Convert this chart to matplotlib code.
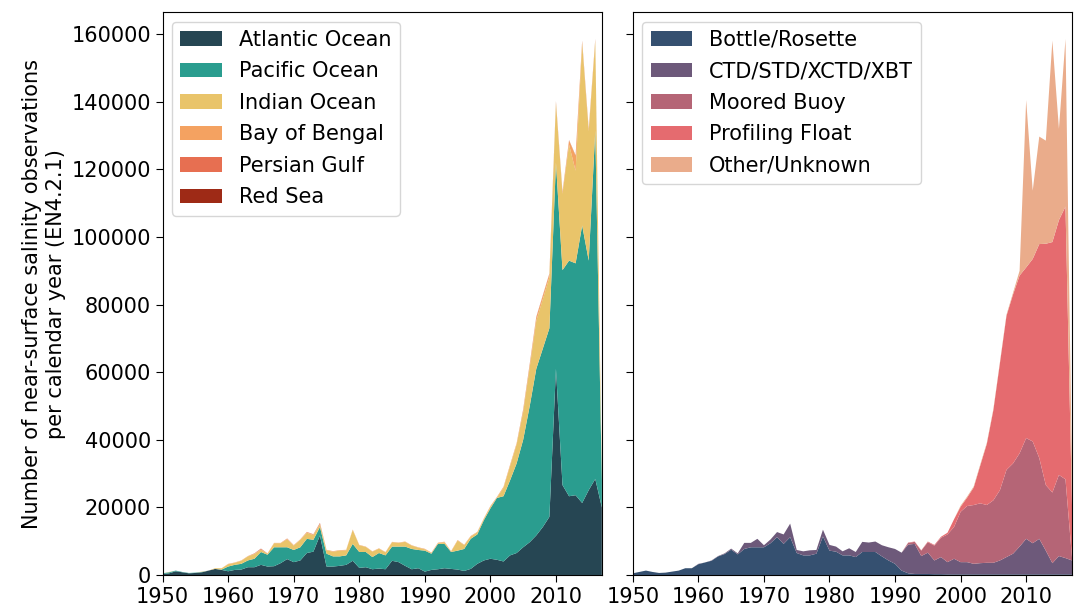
import numpy as np
import matplotlib
matplotlib.use("Agg")
import matplotlib.pyplot as plt

years = np.arange(1950, 2018)

# observations per year by ocean basin
atlantic = [300, 500, 1100, 800, 500, 600, 800, 1300, 1800, 1500,
            1100, 1500, 1600, 2300, 2300, 3000, 2500, 2600, 3500, 4700,
            3800, 4300, 6500, 6900, 11700, 2500, 2500, 2700, 3000, 4200,
            2100, 2300, 1700, 1900, 1700, 4200, 3800, 2700, 1700, 2000,
            1000, 1500, 1700, 2000, 1800, 1600, 1200, 1800, 3300, 4300,
            4800, 4500, 4000, 5800, 6500, 8200, 9700, 11700, 14200, 17200,
            61000, 26600, 23300, 23600, 21300, 25100, 28400, 20000]
pacific = [200, 300, 200, 100, 100, 100, 100, 0, 0, 100,
           1400, 1500, 1700, 2000, 2500, 3800, 3500, 5600, 4700, 3500,
           3600, 3900, 4200, 3500, 2500, 3800, 3000, 2800, 2800, 5000,
           4700, 4500, 3600, 4600, 4100, 4200, 4600, 5700, 6000, 5400,
           6200, 4800, 7500, 7200, 5000, 5600, 6500, 8900, 8700, 11900,
           14900, 18300, 19300, 22200, 26500, 31800, 40300, 49300, 52800, 55800,
           61000, 63600, 69700, 68600, 82100, 67900, 103100, 8000]
indian = [0, 100, 0, 0, 0, 0, 100, 0, 200, 400,
          700, 600, 900, 1200, 1400, 700, 300, 1200, 1200, 2400,
          1300, 2200, 1800, 1400, 800, 1000, 1400, 1700, 1500, 4100,
          2000, 1500, 1600, 1300, 900, 1300, 1100, 1400, 1000, 700,
          400, 200, 200, 500, 100, 3000, 1100, 700, 600, 400,
          500, 100, 2500, 4200, 5600, 8200, 11500, 14200, 14600, 15100,
          17500, 22600, 34300, 27400, 53900, 38300, 26400, 1000]
bay_of_bengal = [0, 0, 0, 0, 0, 0, 0, 0, 0, 0,
                 100, 100, 100, 100, 100, 100, 100, 100, 100, 100,
                 150, 150, 150, 150, 150, 150, 150, 150, 150, 150,
                 100, 100, 100, 100, 100, 100, 100, 100, 100, 100,
                 150, 150, 150, 150, 150, 150, 150, 150, 150, 150,
                 200, 200, 300, 400, 400, 600, 800, 1000, 1000, 900,
                 500, 400, 1200, 4400, 600, 500, 500, 0]
persian_gulf = [0, 0, 0, 0, 0, 0, 0, 0, 0, 0,
                0, 0, 0, 0, 100, 150, 0, 0, 0, 100,
                0, 0, 100, 100, 200, 0, 0, 0, 0, 0,
                0, 0, 0, 0, 0, 0, 0, 0, 0, 0,
                0, 0, 0, 0, 0, 0, 0, 0, 0, 0,
                0, 0, 0, 0, 0, 100, 100, 100, 100, 100,
                100, 100, 100, 100, 100, 100, 100, 0]
red_sea = [0, 0, 0, 0, 0, 0, 0, 0, 0, 0,
           0, 0, 0, 0, 0, 50, 0, 0, 0, 0,
           0, 0, 0, 0, 50, 0, 0, 0, 0, 0,
           0, 0, 0, 0, 0, 0, 0, 0, 0, 0,
           0, 0, 0, 0, 0, 0, 0, 0, 0, 0,
           0, 0, 0, 0, 0, 50, 50, 50, 50, 50,
           50, 50, 50, 50, 50, 50, 50, 0]

# observations per year by instrument type
bottle = [500, 900, 1300, 900, 600, 700, 1000, 1300, 2000, 2000,
          3200, 3700, 4200, 5500, 6200, 7500, 6100, 7700, 8200, 8200,
          8200, 9400, 11200, 9200, 11200, 6500, 5800, 5800, 6300, 11400,
          7200, 6900, 5800, 5800, 5300, 6800, 6800, 6800, 5500, 4300,
          3300, 1300, 500, 300, 300, 300, 250, 250, 200, 200,
          200, 200, 200, 200, 200, 200, 200, 200, 200, 200,
          200, 200, 200, 200, 200, 200, 200, 200]
ctd = [0, 0, 0, 0, 0, 0, 0, 0, 0, 0,
       100, 0, 100, 100, 200, 300, 300, 1800, 1300, 2500,
       600, 1100, 1500, 2800, 4000, 900, 1200, 1500, 1100, 2000,
       1700, 1500, 1200, 2100, 1500, 3000, 2800, 3100, 3300, 3900,
       4400, 5300, 8500, 8900, 5300, 6300, 4050, 5050, 3600, 4600,
       3600, 3600, 3100, 3300, 3400, 3400, 4100, 5100, 6100, 8200,
       10500, 9200, 10500, 7000, 3300, 5400, 4800, 4100]
moored = [0] * 42 + [500, 600, 1600, 3100, 4400, 5700, 8200, 9400,
                     14900, 16600, 17400, 17700, 17100, 18500, 20800, 25800, 26700, 27600,
                     29800, 30100, 23900, 19400, 20900, 24000, 23300, 700]
profiling_float = [0] * 42 + [100, 100, 100, 200, 200, 300, 500, 2300,
                              1500, 2500, 5200, 11200, 18100, 26700, 37600, 45600, 50000, 52600,
                              50500, 54000, 63300, 71400, 74100, 75400, 80700, 15000]
other = [0] * 50 + [300, 300, 300, 300, 300, 300, 300, 300, 500, 1400,
                    49500, 20200, 31800, 30500, 59600, 27000, 49600, 9000]

basin_labels = ["Atlantic Ocean", "Pacific Ocean", "Indian Ocean",
                "Bay of Bengal", "Persian Gulf", "Red Sea"]
basin_colors = ["#264653", "#2a9d8f", "#e9c46a", "#f4a261", "#e76f51", "#9e2a16"]
instrument_labels = ["Bottle/Rosette", "CTD/STD/XCTD/XBT", "Moored Buoy",
                     "Profiling Float", "Other/Unknown"]
instrument_colors = ["#355070", "#6d597a", "#b56576", "#e56b6f", "#eaac8b"]

plt.rcParams["font.family"] = "DejaVu Sans"
fig, (ax1, ax2) = plt.subplots(1, 2, sharey=True, figsize=(10.77, 6.10), dpi=100)
fig.subplots_adjust(left=0.151, right=0.9954, bottom=0.0574, top=0.980, wspace=0.0706)

ax1.stackplot(years, atlantic, pacific, indian, bay_of_bengal, persian_gulf, red_sea,
              labels=basin_labels, colors=basin_colors)
ax2.stackplot(years, bottle, ctd, moored, profiling_float, other,
              labels=instrument_labels, colors=instrument_colors)

for ax in (ax1, ax2):
    ax.set_xlim(1950, 2017)
    ax.set_ylim(0, 166500)
    ax.set_xticks(range(1950, 2011, 10))
    ax.set_yticks(range(0, 160001, 20000))
    ax.tick_params(labelsize=15, length=5)
    ax.legend(loc="upper left", fontsize=15, handlelength=2.0, labelspacing=0.55,
              borderaxespad=0.45)

ax1.set_ylabel("Number of near-surface salinity observations\nper calendar year (EN4.2.1)",
               fontsize=15)

fig.savefig("out.png", dpi=100)
